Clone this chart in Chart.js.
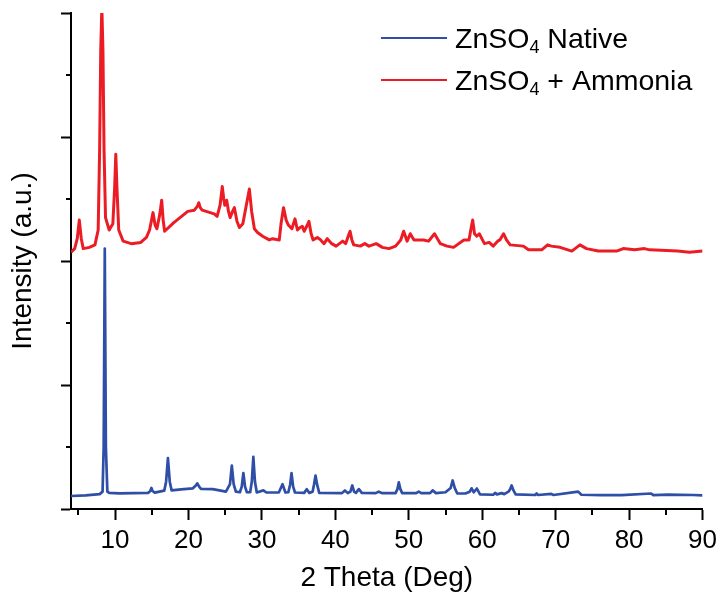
<!DOCTYPE html>
<html lang="en">
<head>
  <meta charset="UTF-8" />
  <title>XRD ZnSO4</title>
  <script src="https://cdn.jsdelivr.net/npm/chart.js"></script>
  <style>
    body { margin: 0; background: #fff; }
  </style>
</head>
<body>
  <canvas id="xrdChart" width="722" height="598"></canvas>

  <script>
    // data
    const nativeTheta = [4.0, 6.0, 7.9, 8.3, 8.45, 8.6, 8.75, 8.95, 9.2, 10.6, 12.5, 14.5, 14.8, 14.95, 15.1, 15.4,
      16.7, 16.95, 17.2, 17.45, 17.7, 19.0, 20.6, 21.0, 21.2, 21.45, 21.7, 23.3, 25.1, 25.65, 25.9, 26.15, 26.45,
      27.0, 27.25, 27.47, 27.7, 27.95, 28.4, 28.62, 28.83, 29.05, 29.3, 30.2, 30.6, 32.3, 32.8, 33.2, 33.6,
      33.85, 34.03, 34.25, 34.5, 35.75, 36.1, 36.45, 36.9, 37.1, 37.3, 37.5, 37.8, 40.9, 41.3, 41.7, 42.05,
      42.3, 42.55, 42.8, 43.2, 43.6, 45.5, 45.9, 46.4, 48.2, 48.45, 48.64, 48.85, 49.1, 51.0, 51.35, 51.7,
      52.9, 53.25, 53.7, 55.0, 55.7, 55.97, 56.25, 56.6, 57.7, 58.3, 58.55, 58.85, 59.27, 59.7, 61.5, 61.76,
      62.0, 62.65, 63.0, 63.57, 63.8, 64.0, 64.25, 64.55, 67.2, 67.4, 67.6, 69.4, 69.7, 73.06, 73.5, 76.2,
      79.0, 83.0, 83.3, 85.3, 88.7, 90.0];
    const nativeI = [0.105, 0.11, 0.12, 0.14, 0.5, 2.10, 0.5, 0.14, 0.13, 0.126, 0.128, 0.13, 0.145, 0.17, 0.145, 0.132,
      0.148, 0.22, 0.41, 0.22, 0.15, 0.158, 0.167, 0.19, 0.207, 0.18, 0.162, 0.16, 0.14, 0.2, 0.35, 0.2, 0.14,
      0.135, 0.18, 0.29, 0.18, 0.135, 0.135, 0.22, 0.42, 0.22, 0.133, 0.15, 0.133, 0.133, 0.2, 0.133, 0.135,
      0.2, 0.29, 0.18, 0.133, 0.13, 0.16, 0.13, 0.14, 0.2, 0.27, 0.2, 0.13, 0.128, 0.15, 0.128, 0.14,
      0.19, 0.14, 0.13, 0.16, 0.13, 0.128, 0.14, 0.128, 0.128, 0.16, 0.215, 0.16, 0.128, 0.128, 0.14, 0.128,
      0.128, 0.15, 0.128, 0.135, 0.17, 0.23, 0.17, 0.125, 0.125, 0.14, 0.167, 0.135, 0.165, 0.118, 0.115, 0.13,
      0.118, 0.128, 0.12, 0.14, 0.16, 0.19, 0.15, 0.118, 0.113, 0.125, 0.113, 0.122, 0.113, 0.14, 0.115, 0.112,
      0.112, 0.125, 0.112, 0.116, 0.113, 0.11];

    const ammoniaTheta = [4.0, 4.5, 4.85, 5.13, 5.4, 5.67, 6.5, 7.26, 7.7, 7.9, 8.05, 8.2, 8.35, 8.5, 8.7, 9.2,
      9.7, 9.95, 10.1, 10.25, 10.5, 11.1, 12.2, 13.5, 14.27, 14.7, 15.17, 15.45, 15.7, 16.1, 16.35, 16.55, 16.75,
      18.0, 19.9, 20.8, 21.2, 21.4, 21.6, 21.86, 23.5, 23.9, 24.3, 24.6, 24.8, 24.94, 25.2, 25.45, 25.67, 26.0,
      26.25, 26.6, 26.93, 27.4, 27.84, 28.29, 28.6, 28.97, 29.4, 30.1, 31.0, 31.45, 32.36, 32.6, 32.94, 33.3,
      33.6, 34.08, 34.5, 34.84, 35.2, 35.5, 35.75, 36.1, 36.4, 36.7, 36.97, 37.55, 38.0, 38.46, 38.9, 39.5,
      40.1, 41.0, 41.4, 41.75, 42.0, 42.25, 42.5, 43.4, 44.0, 44.57, 45.56, 46.4, 47.3, 48.2, 48.9, 49.3,
      49.77, 50.2, 50.7, 51.35, 52.0, 52.7, 53.5, 54.3, 55.2, 56.1, 56.8, 57.5, 58.2, 58.5, 58.7, 58.95,
      59.26, 59.6, 60.3, 60.95, 61.5, 62.1, 62.4, 62.9, 63.3, 63.8, 65.6, 66.3, 68.1, 68.9, 69.4, 70.6,
      72.2, 73.3, 74.2, 75.8, 78.3, 79.2, 80.75, 82.1, 82.8, 86.6, 88.2, 90.0];
    const ammoniaI = [2.07, 2.10, 2.18, 2.33, 2.18, 2.10, 2.11, 2.13, 2.25, 2.9, 3.7, 4.05, 3.7, 2.9, 2.35, 2.25,
      2.3, 2.6, 2.86, 2.6, 2.25, 2.16, 2.14, 2.15, 2.19, 2.25, 2.39, 2.29, 2.26, 2.38, 2.49, 2.33, 2.24,
      2.31, 2.40, 2.41, 2.44, 2.47, 2.43, 2.41, 2.38, 2.36, 2.45, 2.60, 2.50, 2.45, 2.49, 2.40, 2.35, 2.40,
      2.43, 2.32, 2.27, 2.30, 2.44, 2.58, 2.40, 2.26, 2.23, 2.20, 2.17, 2.18, 2.17, 2.30, 2.43, 2.33,
      2.29, 2.26, 2.34, 2.25, 2.27, 2.28, 2.24, 2.28, 2.32, 2.22, 2.17, 2.19, 2.17, 2.14, 2.18, 2.14,
      2.12, 2.16, 2.14, 2.20, 2.24, 2.17, 2.13, 2.12, 2.14, 2.12, 2.14, 2.11, 2.10, 2.12, 2.17, 2.24,
      2.16, 2.22, 2.17, 2.17, 2.17, 2.16, 2.22, 2.14, 2.12, 2.11, 2.14, 2.17, 2.17, 2.27, 2.33, 2.22,
      2.20, 2.22, 2.14, 2.15, 2.12, 2.16, 2.17, 2.22, 2.17, 2.13, 2.12, 2.09, 2.09, 2.13, 2.12, 2.11,
      2.08, 2.13, 2.10, 2.08, 2.08, 2.10, 2.09, 2.10, 2.09, 2.08, 2.07, 2.08];

    const seriesLabels = ['ZnSO₄ Native', 'ZnSO₄ + Ammonia'];
    const xMin = 4, xMax = 90;
    const yMin = 0, yMax = 4;

    const FONT = '"Liberation Sans", Arial, sans-serif';

    function toPoints(xs, ys) {
      return xs.map((x, i) => ({ x: x, y: ys[i] }));
    }

    // minor ticks (Chart.js has none)
    const minorTicks = {
      id: 'minorTicks',
      afterDraw(chart) {
        const { ctx, chartArea, scales } = chart;
        ctx.save();
        ctx.strokeStyle = '#000';
        ctx.lineWidth = 2;
        ctx.beginPath();
        for (let v = 5; v < xMax; v += 10) {
          const px = Math.round(scales.x.getPixelForValue(v));
          ctx.moveTo(px, chartArea.bottom);
          ctx.lineTo(px, chartArea.bottom + 6);
        }
        for (let v = 0.5; v < yMax; v += 1) {
          const py = Math.round(scales.y.getPixelForValue(v));
          ctx.moveTo(chartArea.left, py);
          ctx.lineTo(chartArea.left - 5, py);
        }
        ctx.stroke();
        ctx.restore();
      }
    };

    // legend with a real subscript
    const subLegend = {
      id: 'subLegend',
      afterDraw(chart) {
        const ctx = chart.ctx;
        ctx.save();
        chart.data.datasets.forEach((ds, i) => {
          const y = 38 + i * 42;
          ctx.strokeStyle = ds.borderColor;
          ctx.lineWidth = 2;
          ctx.beginPath();
          ctx.moveTo(381, y);
          ctx.lineTo(447, y);
          ctx.stroke();

          let x = 455;
          const base = y + 10;
          ctx.fillStyle = '#000';
          ctx.textBaseline = 'alphabetic';
          for (const ch of ds.label) {
            if (ch === '₄') {
              ctx.font = '18px ' + FONT;
              ctx.fillText('4', x, base + 5);
              x += ctx.measureText('4').width;
            } else {
              ctx.font = '28.5px ' + FONT;
              ctx.fillText(ch, x, base);
              x += ctx.measureText(ch).width;
            }
          }
        });
        ctx.restore();
      }
    };

    const ctx = document.getElementById('xrdChart');
    new Chart(ctx, {
      type: 'line',
      data: {
        datasets: [{
          label: seriesLabels[0],
          data: toPoints(nativeTheta, nativeI),
          borderColor: '#2f4fa6',
          borderWidth: 2.7,
          borderJoinStyle: 'round',
          pointRadius: 0,
          tension: 0
        }, {
          label: seriesLabels[1],
          data: toPoints(ammoniaTheta, ammoniaI),
          borderColor: '#ec1c24',
          borderWidth: 3,
          borderJoinStyle: 'round',
          pointRadius: 0,
          tension: 0
        }]
      },
      options: {
        responsive: false,
        animation: false,
        parsing: false,
        layout: { padding: { top: 13, right: 15, left: 0, bottom: 0 } },
        plugins: {
          legend: { display: false },
          tooltip: { enabled: false }
        },
        scales: {
          x: {
            type: 'linear',
            min: xMin,
            max: xMax,
            ticks: {
              stepSize: 10,
              includeBounds: false,
              maxRotation: 0,
              color: '#000',
              padding: 5,
              font: { family: FONT, size: 26 }
            },
            grid: { drawOnChartArea: false, drawTicks: true, tickLength: 11, tickWidth: 2, tickColor: '#000' },
            border: { color: '#000', width: 2 },
            title: {
              display: true,
              text: '2 Theta (Deg)',
              color: '#000',
              font: { family: FONT, size: 28 },
              padding: { top: 0, bottom: 3 }
            },
            afterFit: s => { s.height = 89; }
          },
          y: {
            type: 'linear',
            min: yMin,
            max: yMax,
            ticks: { stepSize: 1, display: false },
            grid: { drawOnChartArea: false, drawTicks: true, tickLength: 10, tickWidth: 2, tickColor: '#000' },
            border: { color: '#000', width: 2 },
            title: {
              display: true,
              text: 'Intensity (a.u.)',
              color: '#000',
              font: { family: FONT, size: 28 },
              padding: { top: 6, bottom: 0 }
            },
            afterFit: s => { s.width = 71; }
          }
        }
      },
      plugins: [minorTicks, subLegend]
    });
  </script>
</body>
</html>
